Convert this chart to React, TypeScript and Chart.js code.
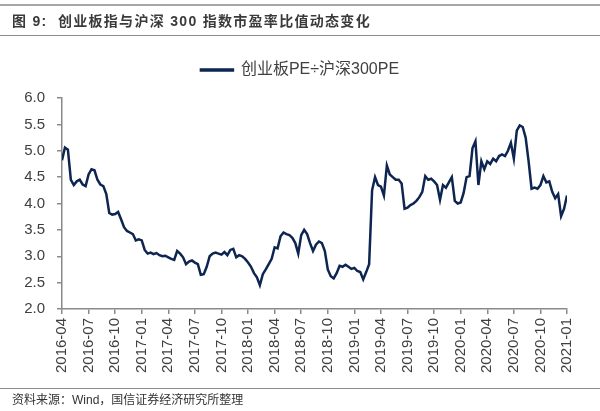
import React, { useEffect, useRef } from "react";
import { Chart, registerables } from "chart.js";

Chart.register(...registerables);

// Quarterly tick labels (x axis, months since 2016-04)
const tickLabels = [
  "2016-04", "2016-07", "2016-10",
  "2017-01", "2017-04", "2017-07", "2017-10",
  "2018-01", "2018-04", "2018-07", "2018-10",
  "2019-01", "2019-04", "2019-07", "2019-10",
  "2020-01", "2020-04", "2020-07", "2020-10",
  "2021-01",
];

const seriesName = "创业板PE÷沪深300PE";

// Samples per month (every ~10 days), starting 2016-04
const samplesPerMonth = 3;

// ChiNext PE / CSI300 PE ratio
const ratio = [
  4.82, 5.06, 5.02, 4.45, 4.35, 4.42, 4.45, 4.36, 4.33,
  4.55, 4.65, 4.63, 4.45, 4.36, 4.33, 4.18, 3.82, 3.79,
  3.80, 3.84, 3.70, 3.55, 3.48, 3.45, 3.42, 3.30, 3.32,
  3.30, 3.12, 3.05, 3.07, 3.04, 3.06, 3.02, 3.00, 3.01,
  2.98, 2.95, 2.93, 3.10, 3.05, 2.98, 2.85, 2.90, 2.92,
  2.88, 2.85, 2.65, 2.66, 2.80, 3.00, 3.05, 3.07, 3.05,
  3.03, 3.08, 3.02, 3.12, 3.14, 2.98, 3.02, 3.00, 2.95,
  2.88, 2.80, 2.68, 2.60, 2.45, 2.66, 2.75, 2.85, 2.95,
  3.17, 3.15, 3.38, 3.45, 3.42, 3.40, 3.35, 3.25, 3.05,
  3.40, 3.50, 3.42, 3.25, 3.10, 3.22, 3.28, 3.25, 3.10,
  2.75, 2.62, 2.58, 2.68, 2.82, 2.80, 2.84, 2.80, 2.76,
  2.78, 2.72, 2.70, 2.56, 2.70, 2.85, 4.25, 4.50, 4.35,
  4.32, 4.15, 4.72, 4.55, 4.50, 4.45, 4.45, 4.38, 3.90,
  3.92, 3.97, 4.00, 4.05, 4.12, 4.22, 4.52, 4.45, 4.47,
  4.42, 4.35, 4.07, 4.35, 4.30, 4.40, 4.50, 4.05, 4.00,
  4.02, 4.20, 4.50, 4.52, 5.05, 5.18, 4.35, 4.80, 4.65,
  4.80, 4.75, 4.85, 4.80, 4.90, 4.93, 4.90, 5.00, 5.15,
  4.85, 5.38, 5.48, 5.45, 5.25, 4.80, 4.28, 4.30, 4.28,
  4.35, 4.52, 4.40, 4.42, 4.22, 4.10, 4.18, 3.76, 3.90,
  4.15,
];

const yMin = 2.0;
const yMax = 6.0;
const yStep = 0.5;

const LINE = "#0d2550";
const AXIS = "#8a8a8a";
const TEXT = "#404040";
const FONT = "'Liberation Sans', Arial, 'Noto Sans CJK SC', sans-serif";

export default function App() {
  const canvasRef = useRef<HTMLCanvasElement | null>(null);

  useEffect(() => {
    const canvas = canvasRef.current;
    if (!canvas) return;
    const points = ratio.map((v, i) => ({ x: i / samplesPerMonth, y: v }));
    const xMax = (tickLabels.length - 1) * 3;
    const chart = new Chart(canvas, {
      type: "line",
      data: {
        datasets: [
          {
            label: seriesName,
            data: points,
            borderColor: LINE,
            backgroundColor: LINE,
            borderWidth: 2.5,
            pointRadius: 0,
            tension: 0,
            fill: false,
            yAxisID: "y",
          },
        ],
      },
      options: {
        responsive: false,
        animation: false,
        layout: { padding: { top: 52, left: 0, right: 0, bottom: 0 } },
        plugins: {
          legend: {
            display: true,
            position: "top",
            labels: {
              boxWidth: 32,
              boxHeight: 1,
              padding: 10,
              color: TEXT,
              font: { family: FONT, size: 16 },
            },
          },
          title: {
            display: true,
            text: "",
            weight: 500,
            padding: 0,
            font: { size: 10, lineHeight: 1 },
          },
          tooltip: { enabled: false },
        },
        scales: {
          x: {
            type: "linear",
            min: 0,
            max: xMax,
            afterFit: (scale: any) => {
              scale.height = 102;
            },
            ticks: {
              stepSize: 3,
              autoSkip: false,
              maxRotation: 90,
              minRotation: 90,
              padding: 4,
              color: TEXT,
              font: { family: FONT, size: 15 },
              callback: (value: any) => {
                const idx = Math.round(Number(value) / 3);
                return tickLabels[idx] ?? "";
              },
            },
            grid: {
              display: true,
              drawOnChartArea: false,
              drawTicks: true,
              tickLength: 5,
              color: AXIS,
              lineWidth: 1.5,
            },
            border: { display: true, color: AXIS, width: 1.5 },
          },
          y: {
            type: "linear",
            position: "left",
            min: yMin,
            max: yMax,
            afterFit: (scale: any) => {
              scale.width = 62;
            },
            ticks: {
              stepSize: yStep,
              padding: 12,
              color: TEXT,
              font: { family: FONT, size: 15 },
              callback: (value: any) => Number(value).toFixed(1),
            },
            grid: {
              display: true,
              drawOnChartArea: false,
              drawTicks: true,
              tickLength: 5,
              color: AXIS,
              lineWidth: 1.5,
            },
            border: { display: true, color: AXIS, width: 1.5 },
          },
          yRightSpace: {
            type: "linear",
            position: "right",
            display: true,
            afterFit: (scale: any) => {
              scale.width = 33;
            },
            ticks: { display: false },
            grid: { display: false, drawTicks: false },
            border: { display: false },
          },
        },
      },
    });
    return () => chart.destroy();
  }, []);

  return (
    <div
      style={{
        position: "absolute",
        left: 0,
        top: 0,
        width: 600,
        height: 411,
        background: "#ffffff",
        overflow: "hidden",
        fontFamily: FONT,
      }}
    >
      <canvas
        ref={canvasRef}
        width={600}
        height={411}
        style={{ position: "absolute", left: 0, top: 0, width: 600, height: 411 }}
      />
      <div
        style={{
          position: "absolute",
          left: 0,
          top: 4,
          width: 600,
          height: 2,
          background: "#a6a6a6",
        }}
      />
      <div
        style={{
          position: "absolute",
          left: 12,
          top: 14,
          fontSize: 14,
          lineHeight: "15px",
          fontWeight: "bold",
          letterSpacing: 1.3,
          color: "#3a3a3a",
          whiteSpace: "pre",
        }}
      >
        {"图 9:  创业板指与沪深 300 指数市盈率比值动态变化"}
      </div>
      <div
        style={{
          position: "absolute",
          left: 0,
          top: 35,
          width: 600,
          height: 1,
          background: "#8c8c8c",
        }}
      />
      <div
        style={{
          position: "absolute",
          left: 0,
          top: 388,
          width: 600,
          height: 1,
          background: "#8c8c8c",
        }}
      />
      <div
        style={{
          position: "absolute",
          left: 12,
          top: 393,
          fontSize: 12,
          lineHeight: "14px",
          color: "#333333",
          whiteSpace: "pre",
        }}
      >
        {"资料来源：Wind，国信证券经济研究所整理"}
      </div>
    </div>
  );
}
